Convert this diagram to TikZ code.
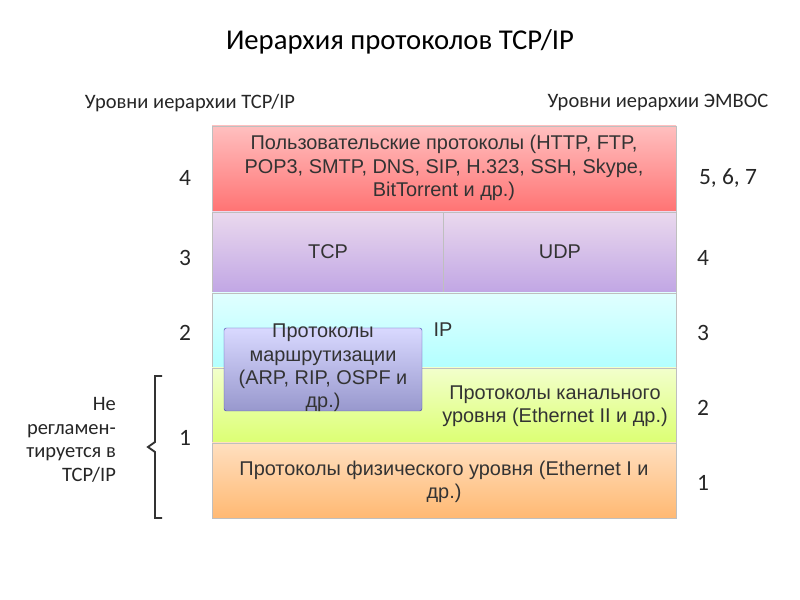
\documentclass[tikz,border=0pt]{standalone}
\usepackage{fontspec}
\setmainfont{Carlito}
\newfontfamily\arialf{Liberation Sans}
\begin{document}
\begin{tikzpicture}[x=0.03cm,y=-0.03cm,
  lay/.style={draw=black!25,line width=0.4pt},
  btxt/.style={font=\arialf\fontsize{17}{20}\selectfont,align=center,text=black!80},
  num/.style={font=\fontsize{20}{22}\selectfont,text=black!85},
  lbl/.style={font=\fontsize{17.5}{20}\selectfont,text=black!85}]
\useasboundingbox (0,0) rectangle (800,600);
\node[font=\fontsize{24.5}{27}\selectfont] (title) at (400,42) {Иерархия протоколов TCP/IP};
\node[lbl] (lt) at (190,103) {Уровни иерархии TCP/IP};
\node[lbl] (rt) at (658,103) {Уровни иерархии ЭМВОС};
% layers
\shade[lay,top color=red!25,bottom color=red!55] (212,126) rectangle (676,212);
\shade[lay,top color=blue!10!violet!15,bottom color=blue!40!violet!35] (212,212) rectangle (676,293);
\draw[black!25] (443,212) -- (443,293);
\shade[lay,top color=cyan!12,bottom color=cyan!30] (212,293) rectangle (676,368);
\shade[lay,top color=lime!20,bottom color=lime!55] (212,368) rectangle (676,443);
\shade[lay,top color=orange!25,bottom color=orange!55] (212,443) rectangle (676,518);
\node[btxt] (app) at (444,168) {Пользовательские протоколы (HTTP, FTP,\\POP3, SMTP, DNS, SIP, H.323, SSH, Skype,\\BitTorrent и др.)};
\node[btxt] (tcp) at (328,252) {TCP};
\node[btxt] (udp) at (560,252) {UDP};
\node[btxt] (ip) at (443,330) {IP};
\node[btxt] (link) at (555,406) {Протоколы канального\\уровня (Ethernet II и др.)};
\node[btxt] (phys) at (444,482) {Протоколы физического уровня (Ethernet I и\\др.)};
\shade[draw=blue!40!gray,top color=blue!15,bottom color=blue!35!gray!60,rounded corners=2pt] (224,328) rectangle (422,411);
\node[btxt] (rout) at (323,368) {Протоколы\\маршрутизации\\(ARP, RIP, OSPF и\\др.)};
% numbers
\node[num] (l4) at (185,178) {4};
\node[num] (l3) at (185,258) {3};
\node[num] (l2) at (185,333) {2};
\node[num] (l1) at (185,438) {1};
\node[num] (r4) at (728,178) {5, 6, 7};
\node[num] (r3) at (703,258) {4};
\node[num] (r2) at (703,333) {3};
\node[num] (r1) at (703,408) {2};
\node[num] (r0) at (703,483) {1};
\node[lbl,align=right,anchor=east] (nr) at (120,440) {Не\\регламен-\\тируется в\\TCP/IP};
\draw[line width=1.6pt,black!80] (162,376) -- (155,376) -- (155,442) -- (148,447) -- (155,452) -- (155,518) -- (162,518);
\end{tikzpicture}
\end{document}
